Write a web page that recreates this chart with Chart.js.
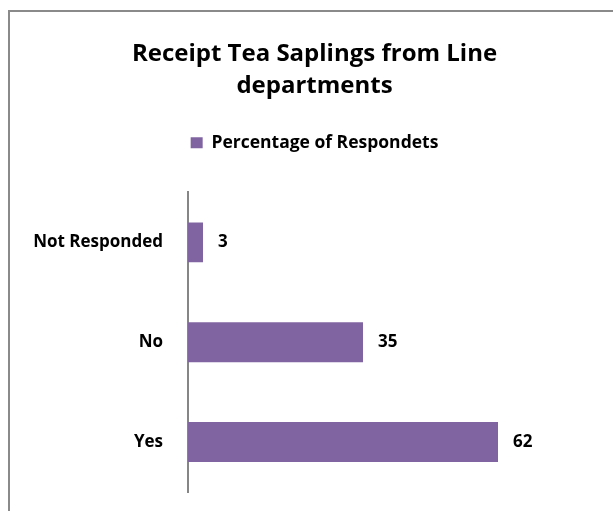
<!DOCTYPE html>
<html>
<head>
<meta charset="utf-8">
<script src="https://cdn.jsdelivr.net/npm/chart.js@4.4.1/dist/chart.umd.min.js"></script>
<style>
  html, body { margin: 0; padding: 0; background: #fff; overflow: hidden; }
  #wrap { position: relative; width: 613px; height: 511px; }
  #frame { position: absolute; left: 8px; top: 10px; width: 640px; height: 560px;
           border: 2px solid #8a8a8a; box-sizing: border-box; }
  canvas { position: absolute; left: 0; top: 0; }
</style>
</head>
<body>
<div id="wrap">
  <div id="frame"></div>
  <canvas id="chart" width="613" height="511"></canvas>
</div>
<script>
// Survey answers and the share of respondents for each
const categories = ['Not Responded', 'No', 'Yes'];
const percentages = [3, 35, 62];
const seriesName = 'Percentage of Respondets';
const titleLines = ['Receipt Tea Saplings from Line', 'departments'];

const FONT = "'Open Sans', 'Liberation Sans', sans-serif";
const BAR_COLOR = '#8064A2';
const LEFT_PAD = 16;
const AXIS_X = 188;

// Writes each bar's value just past its end
const valueLabels = {
  id: 'valueLabels',
  afterDatasetsDraw(chart) {
    const ctx = chart.ctx;
    const meta = chart.getDatasetMeta(0);
    ctx.save();
    ctx.font = 'bold 17px ' + FONT;
    ctx.fillStyle = '#000';
    ctx.textAlign = 'left';
    ctx.textBaseline = 'middle';
    meta.data.forEach((bar, i) => {
      ctx.fillText(String(chart.data.datasets[0].data[i]), bar.x + 15, bar.y);
    });
    ctx.restore();
  }
};

new Chart(document.getElementById('chart'), {
  type: 'bar',
  data: {
    labels: categories,
    datasets: [{
      label: seriesName,
      data: percentages,
      backgroundColor: BAR_COLOR,
      borderWidth: 0,
      categoryPercentage: 0.8,
      barPercentage: 0.5
    }]
  },
  plugins: [valueLabels],
  options: {
    indexAxis: 'y',
    responsive: false,
    animation: false,
    layout: { padding: { left: LEFT_PAD, right: 0, top: 0, bottom: 19 } },
    plugins: {
      title: {
        display: true,
        text: titleLines,
        color: '#000',
        font: { family: FONT, size: 24, weight: 'bold', lineHeight: 1.333 },
        padding: { top: 38, bottom: 22 }
      },
      legend: {
        display: true,
        position: 'top',
        labels: {
          color: '#000',
          font: { family: FONT, size: 17.5, weight: 'bold' },
          boxWidth: 12,
          boxHeight: 11,
          padding: 10
        }
      },
      tooltip: { enabled: false }
    },
    scales: {
      x: {
        position: 'top',
        min: 0,
        max: 85,
        grid: { display: false, drawTicks: false },
        border: { display: false },
        ticks: { display: false },
        // blank band between the legend and the bars
        afterFit(scale) { scale.height = 31; }
      },
      y: {
        grid: { display: false, drawTicks: false },
        border: { display: true, color: '#868686', width: 2 },
        ticks: {
          color: '#000',
          font: { family: FONT, size: 17, weight: 'bold' },
          padding: 25
        },
        afterFit(scale) {
          scale.width = AXIS_X - LEFT_PAD;
          // the label gap is horizontal only; keep it out of the vertical margins
          scale.paddingTop = 0;
          scale.paddingBottom = 0;
        }
      }
    }
  }
});
</script>
</body>
</html>
